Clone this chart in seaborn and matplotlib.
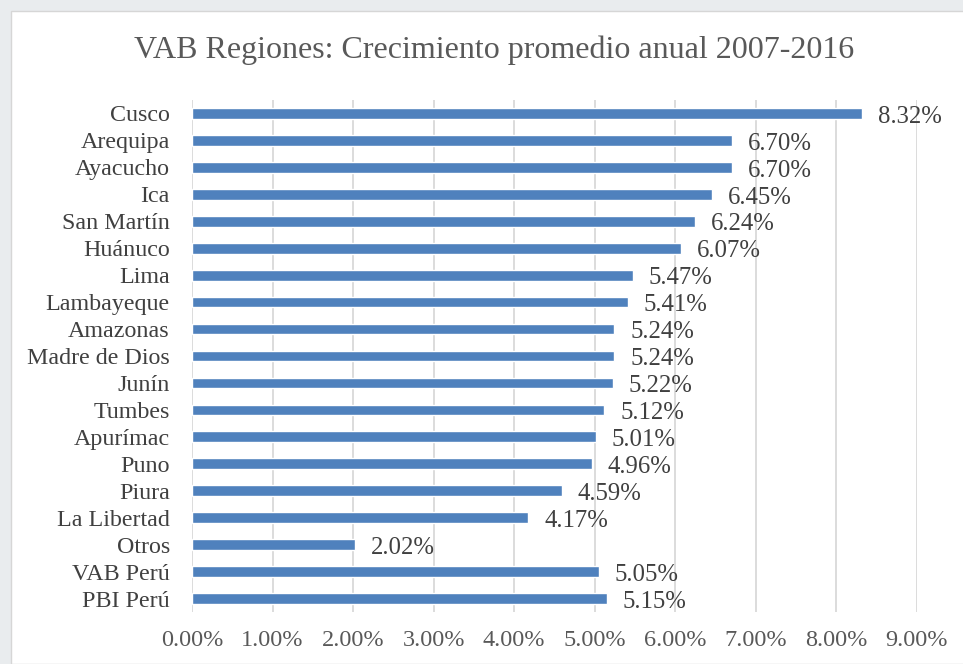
import matplotlib
matplotlib.use("Agg")
import matplotlib.pyplot as plt
import seaborn as sns
import pandas as pd
from matplotlib.patches import Rectangle
from matplotlib.ticker import FuncFormatter

regions = ["Cusco", "Arequipa", "Ayacucho", "Ica", "San Martín", "Huánuco", "Lima",
           "Lambayeque", "Amazonas", "Madre de Dios", "Junín", "Tumbes", "Apurímac",
           "Puno", "Piura", "La Libertad", "Otros", "VAB Perú", "PBI Perú"]
growth = [8.32, 6.70, 6.70, 6.45, 6.24, 6.07, 5.47, 5.41, 5.24, 5.24, 5.22, 5.12,
          5.01, 4.96, 4.59, 4.17, 2.02, 5.05, 5.15]
x_ticks = [0, 1, 2, 3, 4, 5, 6, 7, 8, 9]

df = pd.DataFrame({"region": regions, "growth": growth})

sns.set_theme(style="white")
plt.rcParams["font.family"] = ["Liberation Serif", "DejaVu Serif"]

W, H = 963, 664
fig = plt.figure(figsize=(W / 100, H / 100), dpi=100)
fig.patch.set_facecolor("#e9ecee")
fig.patches.append(Rectangle((11 / W, 0), 1, 1 - 11 / H, transform=fig.transFigure,
                             facecolor="white", edgecolor="#d6d6d6", lw=1.0, zorder=-5))

ax = fig.add_axes([192 / W, 1 - 612 / H, (917 - 192) / W, (612 - 100) / H])
ax.set_zorder(2)
ax.set_facecolor("none")
sns.barplot(data=df, x="growth", y="region", orient="h", color="#4f81bd",
            width=0.4, saturation=1, ax=ax, zorder=3)

ax.set_xlim(0, 9)
ax.set_ylim(18.5, -0.5)
ax.set_xticks(x_ticks)
ax.xaxis.set_major_formatter(FuncFormatter(lambda v, p: f"{v:.2f}%"))
ax.grid(axis="x", color="#d9d9d9", lw=1.3, zorder=0)
ax.grid(axis="y", visible=False)
ax.set_axisbelow(True)
for s in ax.spines.values():
    s.set_visible(False)
ax.tick_params(axis="x", length=0, pad=13, labelsize=17.5, labelcolor="#595959")
ax.tick_params(axis="y", length=0, pad=16, labelsize=17.3, labelcolor="#404040")
ax.set_xlabel("")
ax.set_ylabel("")

for i, v in enumerate(growth):
    ax.text(v + 0.2, i + 0.12, f"{v:.2f}%", va="center", ha="left",
            fontsize=17.8, color="#404040", zorder=4)

fig.text(494 / W, 1 - 50 / H, "VAB Regiones: Crecimiento promedio anual 2007-2016",
         ha="center", va="center", fontsize=23, color="#595959")

fig.savefig("out.png", dpi=100, facecolor=fig.get_facecolor())
